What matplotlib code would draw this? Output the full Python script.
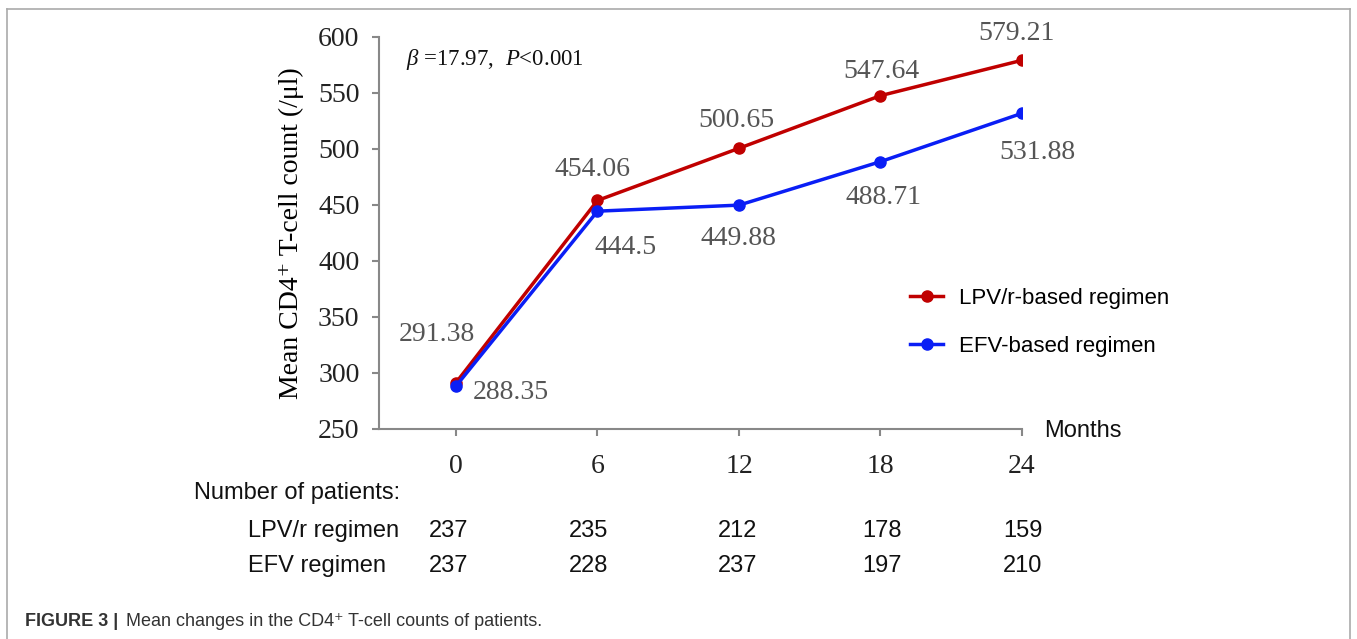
import matplotlib
matplotlib.use("Agg")
import matplotlib.pyplot as plt
from matplotlib.lines import Line2D

months = [0, 6, 12, 18, 24]
lpv_cd4 = [291.38, 454.06, 500.65, 547.64, 579.21]
efv_cd4 = [288.35, 444.5, 449.88, 488.71, 531.88]
lpv_n = [237, 235, 212, 178, 159]
efv_n = [237, 228, 237, 197, 210]
yticks = [250, 300, 350, 400, 450, 500, 550, 600]

C_LPV = "#C00000"; C_EFV = "#0A1EF5"; C_AX = "#888888"; C_LAB = "#555555"
SERIF = ["Liberation Serif", "DejaVu Serif"]
SANS = ["Liberation Sans", "DejaVu Sans"]
plt.rcParams.update({"mathtext.fontset": "custom", "mathtext.rm": "Liberation Serif",
                     "mathtext.it": "Liberation Serif:italic"})

fig = plt.figure(figsize=(13.57, 6.39), dpi=100)
ax = fig.add_axes([379/1357, 1 - 429/639, (1022 - 379)/1357, (429 - 37)/639])

ax.plot(months, lpv_cd4, color=C_LPV, lw=2.5, marker="o", ms=8, label="LPV/r-based regimen", zorder=2)
ax.plot(months, efv_cd4, color=C_EFV, lw=2.5, marker="o", ms=8, label="EFV-based regimen", zorder=3)

# label offsets in pixels (hand placed like the original)
off_lpv = [(-19, 48), (-5, 31), (-3, 28), (1, 24), (-5, 27)]
off_efv = [(55, -6), (28, -36), (-1, -33), (3, -36), (15, -39)]
for m, v, o in zip(months, lpv_cd4, off_lpv):
    ax.annotate("%g" % v, xy=(m, v), xytext=o, textcoords="offset pixels", ha="center", va="center",
                fontsize=20, family=SERIF, color=C_LAB)
for m, v, o in zip(months, efv_cd4, off_efv):
    ax.annotate("%g" % v, xy=(m, v), xytext=o, textcoords="offset pixels", ha="center", va="center",
                fontsize=20, family=SERIF, color=C_LAB)

ax.set_xlim(-3.265, 24)
ax.set_ylim(250, 600)
ax.set_xticks(months)
ax.set_yticks(yticks)
for s in ["top", "right"]:
    ax.spines[s].set_visible(False)
for s in ["left", "bottom"]:
    ax.spines[s].set_color(C_AX); ax.spines[s].set_linewidth(1.5)
ax.tick_params(axis="both", colors=C_AX, width=1.5, length=5, labelcolor="#222222", labelsize=20)
ax.tick_params(axis="x", pad=13)
ax.tick_params(axis="y", pad=9)
for t in ax.get_xticklabels() + ax.get_yticklabels():
    t.set_family(SERIF)
ax.set_ylabel("Mean CD4⁺ T-cell count (/μl)", family=SERIF, fontsize=20, labelpad=10)
ax.text(1044/1357, 1 - 431/639, "Months", transform=fig.transFigure, fontsize=17, family=SANS,
        va="center", ha="left", color="#111111")
ax.text(406/1357, 1 - 60/639, r"$\beta$ =17.97,  $P$<0.001", transform=fig.transFigure,
        fontsize=16.5, family=SERIF, va="center", ha="left", color="#111111")

ax.legend(loc="upper left", bbox_to_anchor=(910/1357, 1 - 288/639), bbox_transform=fig.transFigure,
          frameon=False, handlelength=1.5, handletextpad=0.7, labelspacing=1.2,
          borderpad=0, borderaxespad=0, prop={"family": SANS, "size": 16})

# patient numbers table
fig.text(194/1357, 1 - 493/639, "Number of patients:", fontsize=17, family=SANS, va="center", color="#111111")
fig.text(248/1357, 1 - 531/639, "LPV/r regimen", fontsize=17, family=SANS, va="center", color="#111111")
fig.text(248/1357, 1 - 566/639, "EFV regimen", fontsize=17, family=SANS, va="center", color="#111111")
nx = [-7, -9, -1, 2, 1]
for m, a, b, dx in zip(months, lpv_n, efv_n, nx):
    ax.annotate(str(a), xy=(m, 1 - 531/639), xycoords=("data", "figure fraction"), xytext=(dx, 0),
                textcoords="offset pixels", ha="center", va="center", fontsize=17, family=SANS,
                color="#111111", annotation_clip=False)
    ax.annotate(str(b), xy=(m, 1 - 566/639), xycoords=("data", "figure fraction"), xytext=(dx, 0),
                textcoords="offset pixels", ha="center", va="center", fontsize=17, family=SANS,
                color="#111111", annotation_clip=False)

# caption
fig.text(25/1357, 1 - 622/639, "FIGURE 3 |", fontsize=13, family=SANS, fontweight="bold",
         va="center", color="#333333")
fig.text(126/1357, 1 - 622/639, "Mean changes in the CD4⁺ T-cell counts of patients.", fontsize=13,
         family=SANS, va="center", color="#333333")

# light frame around the figure panel
fc = "#AAAAAA"
fig.add_artist(Line2D([7/1357, 7/1357], [0, 1 - 9/639], transform=fig.transFigure, color=fc, lw=1.2))
fig.add_artist(Line2D([7/1357, 1350/1357], [1 - 9/639, 1 - 9/639], transform=fig.transFigure, color=fc, lw=1.2))
fig.add_artist(Line2D([1350/1357, 1350/1357], [0, 1 - 9/639], transform=fig.transFigure, color=fc, lw=1.2))

fig.savefig("out.png", dpi=100)
